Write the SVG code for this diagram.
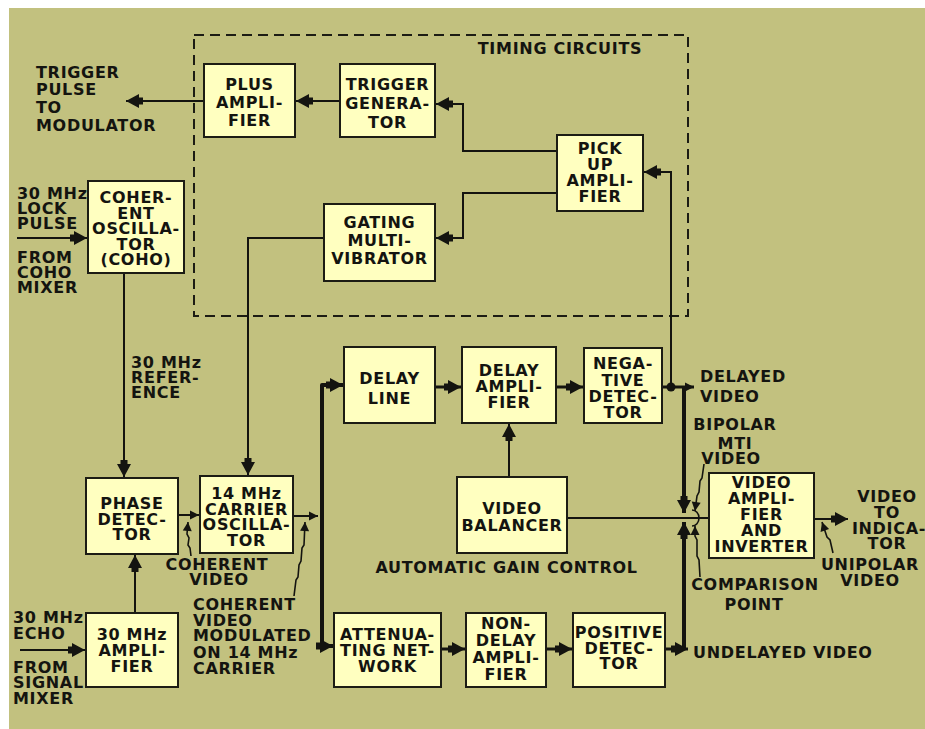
<svg xmlns="http://www.w3.org/2000/svg" width="925" height="729" viewBox="0 0 925 729">
<style>
.bg{fill:#c2c17f}
.box{fill:#ffffc0;stroke:#1c1c14;stroke-width:2}
.t{font-family:"DejaVu Sans","Liberation Sans",sans-serif;font-weight:bold;font-size:16px;letter-spacing:0.7px;fill:#141410}
.c{text-anchor:middle}
.ln{fill:none;stroke:#141410;stroke-width:2}
.thk{fill:none;stroke:#141410;stroke-width:4;stroke-linejoin:round}
.med{fill:none;stroke:#141410;stroke-width:3}
.sq{fill:none;stroke:#141410;stroke-width:1.6}
.dash{fill:none;stroke:#1c1c14;stroke-width:2;stroke-dasharray:10 6}
</style>
<defs>
<marker id="a" markerUnits="userSpaceOnUse" markerWidth="20" markerHeight="16" viewBox="-18 -8 20 16" refX="0" refY="0" orient="auto">
<path d="M0,0 L-13,-7 L-13,7 Z M-13,-3.5 H-17 V3.5 H-13 Z" fill="#141410"/>
</marker>
<marker id="s" markerUnits="userSpaceOnUse" markerWidth="12" markerHeight="10" viewBox="-10 -5 11 10" refX="0" refY="0" orient="auto">
<path d="M0,0 L-9,-4.5 L-9,4.5 Z" fill="#141410"/>
</marker>
</defs>
<rect class="bg" x="9" y="8" width="916" height="721"/>

<g id="timing-circuits">
<rect class="dash" x="194" y="35" width="494" height="281"/>
<text class="t c" x="560" y="54">TIMING CIRCUITS</text>
</g>

<g id="connectors">
<line class="ln" x1="204" y1="101" x2="126" y2="101" marker-end="url(#a)"/>
<line class="ln" x1="340" y1="101" x2="296" y2="101" marker-end="url(#a)"/>
<polyline class="ln" points="557,151 463,151 463,104 436,104" marker-end="url(#a)"/>
<polyline class="ln" points="557,193 463,193 463,238 436,238" marker-end="url(#a)"/>
<polyline class="ln" points="324,238 248,238 248,475" marker-end="url(#a)"/>
<line class="ln" x1="17" y1="238" x2="87" y2="238" marker-end="url(#a)"/>
<line class="ln" x1="124" y1="273" x2="124" y2="477" marker-end="url(#a)"/>
<line class="ln" x1="20" y1="650" x2="85" y2="650" marker-end="url(#a)"/>
<line class="ln" x1="135" y1="613" x2="135" y2="555" marker-end="url(#a)"/>
<line class="ln" x1="178" y1="515" x2="199" y2="515" marker-end="url(#s)"/>
<line class="ln" x1="293" y1="516" x2="318" y2="516" marker-end="url(#s)"/>
<path class="thk" d="M322,516 V385 H343" marker-end="url(#a)"/>
<path class="thk" d="M322,516 V646 H333" marker-end="url(#a)"/>
<line class="med" x1="435" y1="387" x2="461" y2="387" marker-end="url(#a)"/>
<line class="med" x1="556" y1="387" x2="583" y2="387" marker-end="url(#a)"/>
<line class="med" x1="662" y1="387" x2="694" y2="387" marker-end="url(#s)"/>
<circle cx="671" cy="387" r="4.5" fill="#141410"/>
<polyline class="ln" points="671,387 671,172 644,172" marker-end="url(#a)"/>
<path class="thk" d="M684,387 V513" marker-end="url(#a)"/>
<path class="thk" d="M684,649 V522" marker-end="url(#a)"/>
<line class="med" x1="441" y1="649" x2="465" y2="649" marker-end="url(#a)"/>
<line class="med" x1="546" y1="649" x2="572" y2="649" marker-end="url(#a)"/>
<line class="med" x1="665" y1="649" x2="688" y2="649" marker-end="url(#a)"/>
<line class="ln" x1="509" y1="477" x2="509" y2="424" marker-end="url(#a)"/>
<line class="ln" x1="567" y1="518" x2="709" y2="518"/>
<path class="sq" d="M692,510 A7,8 0 0 1 692,526"/>
<line class="ln" x1="814" y1="519" x2="848" y2="519" marker-end="url(#a)"/>
<path class="sq" d="M191,556 L190,548 L188,545 L189,538 L187,534 L188,522" marker-end="url(#s)"/>
<path class="sq" d="M294,596 L296,580 L298,577 L299,565 L301,561 L302,548 L304,545 L305,522" marker-end="url(#s)"/>
<path class="sq" d="M704,464 L702,478 L700,481 L699,492 L697,496 L695,511" marker-end="url(#s)"/>
<path class="sq" d="M700,577 L699,560 L697,556 L697,540 L695,536 L695,526" marker-end="url(#s)"/>
<path class="sq" d="M833,553 L830,540 L827,537 L822,522" marker-end="url(#s)"/>
</g>

<g id="plus-amplifier">
<rect class="box" x="204" y="64" width="91" height="73"/>
<text class="t c" x="249.5" y="90">PLUS</text>
<text class="t c" x="249.5" y="108">AMPLI-</text>
<text class="t c" x="249.5" y="126">FIER</text>
</g>
<g id="trigger-generator">
<rect class="box" x="340" y="64" width="95" height="73"/>
<text class="t c" x="387.5" y="90">TRIGGER</text>
<text class="t c" x="387.5" y="109">GENERA-</text>
<text class="t c" x="387.5" y="128">TOR</text>
</g>
<g id="pick-up-amplifier">
<rect class="box" x="557" y="135" width="86" height="76"/>
<text class="t c" x="600" y="154">PICK</text>
<text class="t c" x="600" y="170">UP</text>
<text class="t c" x="600" y="186">AMPLI-</text>
<text class="t c" x="600" y="202">FIER</text>
</g>
<g id="gating-multivibrator">
<rect class="box" x="324" y="204" width="111" height="77"/>
<text class="t c" x="379.5" y="228">GATING</text>
<text class="t c" x="379.5" y="246">MULTI-</text>
<text class="t c" x="379.5" y="264">VIBRATOR</text>
</g>
<g id="coho">
<rect class="box" x="88" y="181" width="96" height="92"/>
<text class="t c" x="136" y="203">COHER-</text>
<text class="t c" x="136" y="218.5">ENT</text>
<text class="t c" x="136" y="234">OSCILLA-</text>
<text class="t c" x="136" y="249.5">TOR</text>
<text class="t c" x="136" y="265">(COHO)</text>
</g>
<g id="phase-detector">
<rect class="box" x="86" y="478" width="92" height="76"/>
<text class="t c" x="132" y="509">PHASE</text>
<text class="t c" x="132" y="524.5">DETEC-</text>
<text class="t c" x="132" y="540">TOR</text>
</g>
<g id="carrier-oscillator">
<rect class="box" x="200" y="476" width="93" height="77"/>
<text class="t c" x="246.5" y="499">14 MHz</text>
<text class="t c" x="246.5" y="514.5">CARRIER</text>
<text class="t c" x="246.5" y="530">OSCILLA-</text>
<text class="t c" x="246.5" y="546">TOR</text>
</g>
<g id="amplifier-30mhz">
<rect class="box" x="86" y="613" width="92" height="74"/>
<text class="t c" x="132" y="640">30 MHz</text>
<text class="t c" x="132" y="656">AMPLI-</text>
<text class="t c" x="132" y="672">FIER</text>
</g>
<g id="delay-line">
<rect class="box" x="344" y="347" width="91" height="76"/>
<text class="t c" x="389.5" y="384">DELAY</text>
<text class="t c" x="389.5" y="404">LINE</text>
</g>
<g id="delay-amplifier">
<rect class="box" x="462" y="347" width="94" height="76"/>
<text class="t c" x="509" y="376">DELAY</text>
<text class="t c" x="509" y="392">AMPLI-</text>
<text class="t c" x="509" y="408">FIER</text>
</g>
<g id="negative-detector">
<rect class="box" x="584" y="348" width="78" height="75"/>
<text class="t c" x="623" y="369">NEGA-</text>
<text class="t c" x="623" y="385.5">TIVE</text>
<text class="t c" x="623" y="402">DETEC-</text>
<text class="t c" x="623" y="418">TOR</text>
</g>
<g id="video-balancer">
<rect class="box" x="457" y="477" width="110" height="76"/>
<text class="t c" x="512" y="514">VIDEO</text>
<text class="t c" x="512" y="531">BALANCER</text>
</g>
<g id="attenuating-network">
<rect class="box" x="334" y="613" width="107" height="74"/>
<text class="t c" x="387.5" y="640">ATTENUA-</text>
<text class="t c" x="387.5" y="656">TING NET-</text>
<text class="t c" x="387.5" y="672">WORK</text>
</g>
<g id="non-delay-amplifier">
<rect class="box" x="466" y="613" width="80" height="74"/>
<text class="t c" x="506" y="629">NON-</text>
<text class="t c" x="506" y="646">DELAY</text>
<text class="t c" x="506" y="663">AMPLI-</text>
<text class="t c" x="506" y="680">FIER</text>
</g>
<g id="positive-detector">
<rect class="box" x="573" y="613" width="92" height="74"/>
<text class="t c" x="619" y="638">POSITIVE</text>
<text class="t c" x="619" y="654">DETEC-</text>
<text class="t c" x="619" y="669">TOR</text>
</g>
<g id="video-amplifier-inverter">
<rect class="box" x="709" y="473" width="105" height="85"/>
<text class="t c" x="761.5" y="488">VIDEO</text>
<text class="t c" x="761.5" y="504">AMPLI-</text>
<text class="t c" x="761.5" y="520">FIER</text>
<text class="t c" x="761.5" y="536">AND</text>
<text class="t c" x="761.5" y="552">INVERTER</text>
</g>

<g id="labels">
<text class="t" x="36" y="78">TRIGGER</text>
<text class="t" x="36" y="95">PULSE</text>
<text class="t" x="36" y="113">TO</text>
<text class="t" x="36" y="131">MODULATOR</text>
<text class="t" x="17" y="199">30 MHz</text>
<text class="t" x="17" y="214">LOCK</text>
<text class="t" x="17" y="229">PULSE</text>
<text class="t" x="17" y="263">FROM</text>
<text class="t" x="17" y="278">COHO</text>
<text class="t" x="17" y="293">MIXER</text>
<text class="t" x="131" y="368">30 MHz</text>
<text class="t" x="131" y="383">REFER-</text>
<text class="t" x="131" y="398">ENCE</text>
<text class="t" x="13" y="623">30 MHz</text>
<text class="t" x="13" y="639">ECHO</text>
<text class="t" x="13" y="673">FROM</text>
<text class="t" x="13" y="688">SIGNAL</text>
<text class="t" x="13" y="704">MIXER</text>
<text class="t c" x="217" y="570">COHERENT</text>
<text class="t c" x="219" y="585">VIDEO</text>
<text class="t" x="193" y="610">COHERENT</text>
<text class="t" x="193" y="626">VIDEO</text>
<text class="t" x="193" y="641">MODULATED</text>
<text class="t" x="193" y="658">ON 14 MHz</text>
<text class="t" x="193" y="674">CARRIER</text>
<text class="t c" x="506.5" y="573">AUTOMATIC GAIN CONTROL</text>
<text class="t" x="700" y="382">DELAYED</text>
<text class="t" x="700" y="402">VIDEO</text>
<text class="t c" x="735" y="430">BIPOLAR</text>
<text class="t c" x="735" y="449">MTI</text>
<text class="t c" x="731" y="464">VIDEO</text>
<text class="t c" x="755" y="590">COMPARISON</text>
<text class="t c" x="754" y="610">POINT</text>
<text class="t c" x="887" y="502">VIDEO</text>
<text class="t c" x="887" y="518">TO</text>
<text class="t c" x="889" y="534">INDICA-</text>
<text class="t c" x="887" y="549">TOR</text>
<text class="t c" x="870" y="570">UNIPOLAR</text>
<text class="t c" x="870" y="586">VIDEO</text>
<text class="t" x="693" y="658">UNDELAYED VIDEO</text>
</g>
</svg>
